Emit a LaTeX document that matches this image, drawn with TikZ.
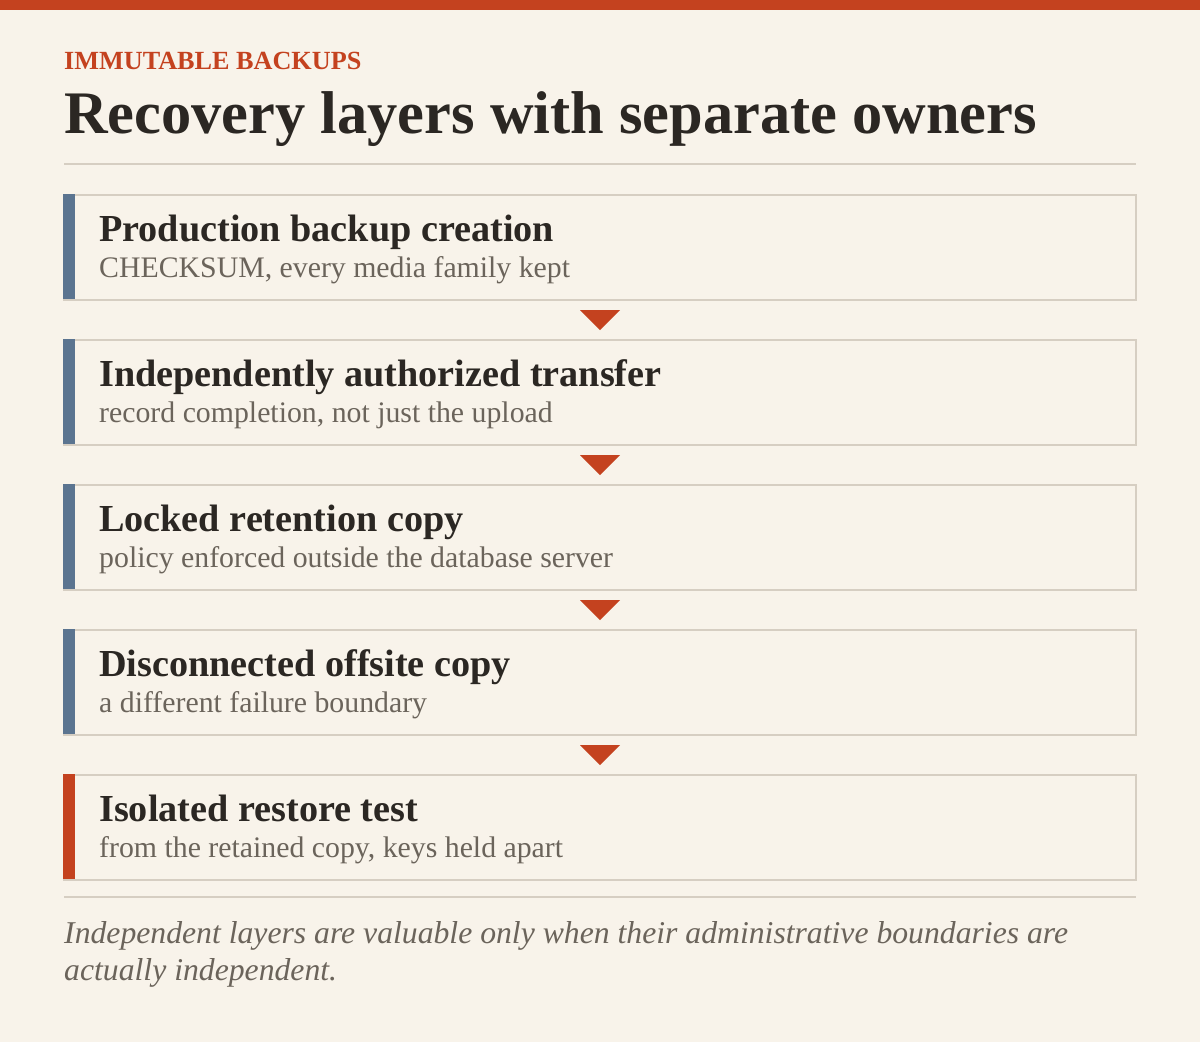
\documentclass[tikz,border=0pt]{standalone}
\usepackage{fontspec}
\setmainfont{Liberation Serif}
\usetikzlibrary{calc}

\definecolor{paper}{HTML}{F8F3EA}
\definecolor{rust}{HTML}{C4421F}
\definecolor{slate}{HTML}{5B7490}
\definecolor{rulegrey}{HTML}{D6CEC2}
\definecolor{ink}{HTML}{2B2723}
\definecolor{muted}{HTML}{6B645B}

\tikzset{
  layer/.style={draw=rulegrey, line width=2pt, minimum width=1072pt,
    minimum height=105pt, inner sep=0pt},
  layername/.style={anchor=base west, inner sep=0pt, text=ink,
    font=\fontsize{38.2}{44}\selectfont\bfseries},
  layernote/.style={anchor=base west, inner sep=0pt, text=muted,
    font=\fontsize{29.8}{36}\selectfont},
  closing/.style={anchor=base west, inner sep=0pt, text=muted,
    font=\fontsize{31.7}{37}\selectfont\itshape},
  divider/.style={draw=rulegrey, line width=2pt},
}

\begin{document}
\begin{tikzpicture}[x=1pt, y=-1pt]
    \useasboundingbox (0,0) rectangle (1200,1042);
    \fill[paper] (0,0) rectangle (1200,1042);
    \fill[rust] (0,0) rectangle (1200,10);

    % heading
    \node[anchor=base west, inner sep=0pt, text=rust,
      font=\fontsize{26.2}{30}\selectfont\bfseries] (kicker) at (64,69) {IMMUTABLE BACKUPS};
    \node[anchor=base west, inner sep=0pt, text=ink,
      font=\fontsize{60.4}{66}\selectfont\bfseries] (title) at (64,133) {Recovery layers with separate owners};
    \coordinate (r1a) at (64,164);
    \coordinate (r1b) at (1136,164);
    \draw[divider] (r1a) -- (r1b);

    % layers
    \node[layer] (l1) at (600,247.5) {};
    \node[layer] (l2) at (600,392.5) {};
    \node[layer] (l3) at (600,537.5) {};
    \node[layer] (l4) at (600,682.5) {};
    \node[layer] (l5) at (600,827.5) {};
    \fill[slate] (l1.north west) rectangle ++(12,105);
    \fill[slate] (l2.north west) rectangle ++(12,105);
    \fill[slate] (l3.north west) rectangle ++(12,105);
    \fill[slate] (l4.north west) rectangle ++(12,105);
    \fill[rust] (l5.north west) rectangle ++(12,105);

    \node[layername] (n1) at ($(l1.north west)+(36,47)$) {Production backup creation};
    \node[layernote] (s1) at ($(l1.north west)+(36,83)$) {CHECKSUM, every media family kept};
    \node[layername] (n2) at ($(l2.north west)+(36,47)$) {Independently authorized transfer};
    \node[layernote] (s2) at ($(l2.north west)+(36,83)$) {record completion, not just the upload};
    \node[layername] (n3) at ($(l3.north west)+(36,47)$) {Locked retention copy};
    \node[layernote] (s3) at ($(l3.north west)+(36,83)$) {policy enforced outside the database server};
    \node[layername] (n4) at ($(l4.north west)+(36,47)$) {Disconnected offsite copy};
    \node[layernote] (s4) at ($(l4.north west)+(36,83)$) {a different failure boundary};
    \node[layername] (n5) at ($(l5.north west)+(36,47)$) {Isolated restore test};
    \node[layernote] (s5) at ($(l5.north west)+(36,83)$) {from the retained copy, keys held apart};

    % markers between layers
    \coordinate (m1) at ($(l1.south)!0.5!(l2.north)$);
    \coordinate (m2) at ($(l2.south)!0.5!(l3.north)$);
    \coordinate (m3) at ($(l3.south)!0.5!(l4.north)$);
    \coordinate (m4) at ($(l4.south)!0.5!(l5.north)$);
    \fill[rust] ($(m1)+(-20,-10)$) -- ($(m1)+(20,-10)$) -- ($(m1)+(0,10)$) -- cycle;
    \fill[rust] ($(m2)+(-20,-10)$) -- ($(m2)+(20,-10)$) -- ($(m2)+(0,10)$) -- cycle;
    \fill[rust] ($(m3)+(-20,-10)$) -- ($(m3)+(20,-10)$) -- ($(m3)+(0,10)$) -- cycle;
    \fill[rust] ($(m4)+(-20,-10)$) -- ($(m4)+(20,-10)$) -- ($(m4)+(0,10)$) -- cycle;

    % closing note
    \coordinate (r2a) at (64,897);
    \coordinate (r2b) at (1136,897);
    \draw[divider] (r2a) -- (r2b);
    \node[closing] (c1) at (64,943) {Independent layers are valuable only when their administrative boundaries are};
    \node[closing] (c2) at (64,980) {actually independent.};
\end{tikzpicture}
\end{document}
